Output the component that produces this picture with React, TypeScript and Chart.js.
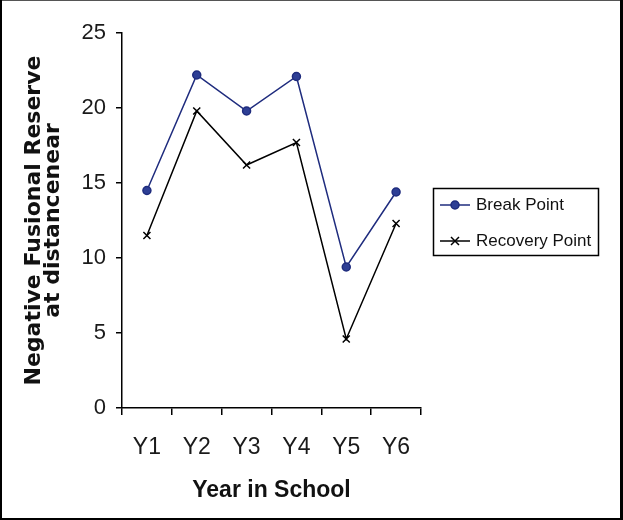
import React, { useEffect, useRef } from 'react';
import { Chart, registerables } from 'chart.js';

Chart.register(...registerables);

const categories = ['Y1', 'Y2', 'Y3', 'Y4', 'Y5', 'Y6'];
const breakPoint = [14.5, 22.2, 19.8, 22.1, 9.4, 14.4];
const recoveryPoint = [11.5, 19.8, 16.2, 17.7, 4.6, 12.3];
const seriesLabels = ['Break Point', 'Recovery Point'];
const yMin = 0;
const yMax = 25;
const yStep = 5;
const yTitle = ['Negative Fusional Reserve', 'at distancenear'];
const xTitle = 'Year in School';

const SANS = "'Liberation Sans', Arial, sans-serif";
const NAVY = '#1f2c7e';

const framePlugin = {
  id: 'frame',
  afterDraw(chart: any) {
    const ctx = chart.ctx;
    const W = chart.width;
    const H = chart.height;
    ctx.save();
    ctx.fillStyle = '#555';
    ctx.fillRect(0, 0, W, 1);
    ctx.fillStyle = '#000';
    ctx.fillRect(0, 0, 2, H);
    ctx.fillRect(W - 3, 0, 3, H);
    ctx.fillRect(0, H - 2, W, 2);
    ctx.restore();
  },
};

const legendPlugin = {
  id: 'boxLegend',
  afterDraw(chart: any) {
    const ctx = chart.ctx;
    ctx.save();
    const bx = 433, by = 188, bw = 165, bh = 67;
    ctx.strokeStyle = '#000';
    ctx.lineWidth = 1.5;
    ctx.strokeRect(bx + 0.5, by + 0.5, bw, bh);
    chart.data.datasets.forEach((ds: any, i: number) => {
      const cy = 205 + i * 36;
      ctx.strokeStyle = ds.borderColor;
      ctx.lineWidth = 1.5;
      ctx.beginPath();
      ctx.moveTo(440, cy);
      ctx.lineTo(470, cy);
      ctx.stroke();
      const mx = 455;
      if (ds.pointStyle === 'circle') {
        ctx.fillStyle = ds.pointBackgroundColor;
        ctx.beginPath();
        ctx.arc(mx, cy, 4, 0, Math.PI * 2);
        ctx.fill();
        ctx.stroke();
      } else {
        const r = 4;
        ctx.beginPath();
        ctx.moveTo(mx - r, cy - r);
        ctx.lineTo(mx + r, cy + r);
        ctx.moveTo(mx - r, cy + r);
        ctx.lineTo(mx + r, cy - r);
        ctx.stroke();
      }
      ctx.fillStyle = '#111';
      ctx.font = `17px ${SANS}`;
      ctx.textBaseline = 'middle';
      ctx.textAlign = 'left';
      ctx.fillText(ds.label, 476, cy);
    });
    ctx.restore();
  },
};

export default function App() {
  const canvasRef = useRef<HTMLCanvasElement | null>(null);

  useEffect(() => {
    document.body.style.margin = '0';
    const canvas = canvasRef.current;
    if (!canvas) return;
    const chart = new Chart(canvas, {
      type: 'line',
      data: {
        labels: categories,
        datasets: [
          {
            label: seriesLabels[0],
            data: breakPoint,
            borderColor: NAVY,
            backgroundColor: NAVY,
            pointBackgroundColor: '#2e3f95',
            pointBorderColor: NAVY,
            pointStyle: 'circle',
            pointRadius: 4,
            pointBorderWidth: 1.5,
            borderWidth: 1.5,
            tension: 0,
          },
          {
            label: seriesLabels[1],
            data: recoveryPoint,
            borderColor: '#000',
            backgroundColor: '#000',
            pointBorderColor: '#000',
            pointStyle: 'crossRot',
            pointRadius: 5,
            pointBorderWidth: 1.5,
            borderWidth: 1.5,
            tension: 0,
          },
        ],
      },
      options: {
        animation: false,
        responsive: false,
        maintainAspectRatio: false,
        devicePixelRatio: 1,
        layout: { padding: { left: 0, right: 202, top: 33, bottom: 0 } },
        plugins: {
          legend: { display: false },
          tooltip: { enabled: false },
        },
        scales: {
          x: {
            type: 'category',
            offset: true,
            grid: {
              display: true,
              offset: true,
              drawOnChartArea: false,
              drawTicks: true,
              tickLength: 7,
              color: '#000',
              lineWidth: 1.5,
            },
            border: { display: true, color: '#000', width: 1.5 },
            ticks: {
              color: '#1a1a1a',
              font: { family: SANS, size: 23 },
              padding: 19,
            },
            title: {
              display: true,
              text: xTitle,
              color: '#111',
              font: { family: SANS, size: 23, weight: 'bold' },
              padding: { top: 0, bottom: 16 },
            },
            afterFit: (scale: any) => {
              scale.height = 112;
            },
          },
          y: {
            min: yMin,
            max: yMax,
            ticks: {
              stepSize: yStep,
              color: '#1a1a1a',
              font: { family: SANS, size: 22 },
              padding: 10,
            },
            grid: {
              display: true,
              drawOnChartArea: false,
              drawTicks: true,
              tickLength: 6,
              color: '#000',
              lineWidth: 1.5,
            },
            border: { display: true, color: '#000', width: 1.5 },
            title: {
              display: true,
              text: yTitle,
              color: '#111',
              font: { family: "'DejaVu Sans', Verdana, sans-serif", size: 22, weight: 'bold', lineHeight: '19px' },
              padding: { top: 25, bottom: 0 },
            },
            afterFit: (scale: any) => {
              scale.width = 122;
            },
          },
        },
      },
      plugins: [legendPlugin, framePlugin],
    });
    return () => chart.destroy();
  }, []);

  return (
    <div style={{ position: 'absolute', left: 0, top: 0, width: 623, height: 520, background: '#fff' }}>
      <canvas ref={canvasRef} width={623} height={520} style={{ display: 'block', width: 623, height: 520 }} />
    </div>
  );
}
